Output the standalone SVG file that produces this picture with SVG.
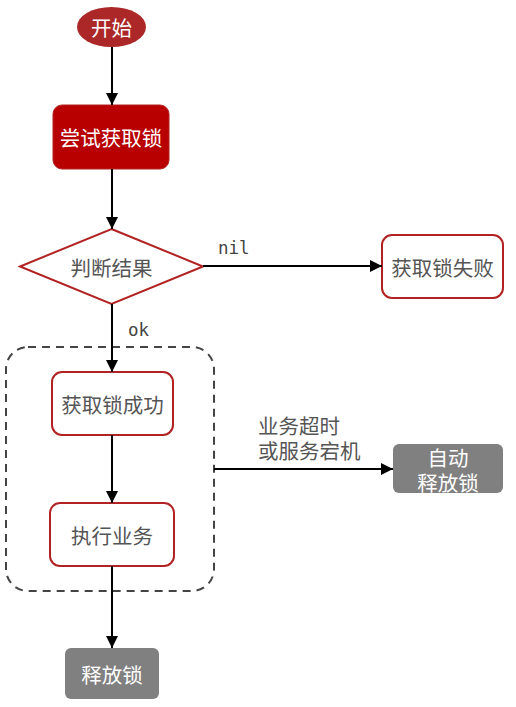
<svg xmlns="http://www.w3.org/2000/svg" width="516" height="707" viewBox="0 0 516 707">
<defs>
<marker id="arr" viewBox="0 0 12 12" refX="12" refY="6" markerWidth="12" markerHeight="12" markerUnits="userSpaceOnUse" orient="auto">
<path d="M0,0 L12,6 L0,12 Z" fill="#000"/>
</marker>
</defs>
<style>
.t{font-family:"Microsoft YaHei","Noto Sans CJK SC",sans-serif;font-size:20.5px;text-anchor:middle;dominant-baseline:central}
.w{fill:#fff}
.g{fill:#555}
.box{fill:#fff;stroke:#b22222;stroke-width:2}
.gray{fill:#808080}
.e{stroke:#000;stroke-width:2;fill:none;marker-end:url(#arr)}
.m{font-family:"DejaVu Sans Mono","Liberation Mono",monospace;font-size:17.5px;fill:#444}
</style>
<rect id="container" x="6" y="347" width="208" height="244" rx="22" fill="none" stroke="#444" stroke-width="2" stroke-dasharray="8,6"/>
<g id="start">
<ellipse cx="111.5" cy="27" rx="34.5" ry="20" fill="#ac2828"/>
<text class="t w" x="111.5" y="27">开始</text>
</g>
<g id="try">
<rect x="53" y="105" width="116" height="64" rx="9" fill="#b80000" stroke="#b22222" stroke-width="1"/>
<text class="t w" x="111" y="137">尝试获取锁</text>
</g>
<g id="judge">
<polygon points="111.5,229 203,266.5 111.5,304 20,266.5" fill="#fff" stroke="#b22222" stroke-width="2"/>
<text class="t g" x="111.5" y="266.5">判断结果</text>
</g>
<g id="fail">
<rect class="box" x="382" y="235" width="121" height="63" rx="10"/>
<text class="t g" x="442.5" y="266.5">获取锁失败</text>
</g>
<g id="success">
<rect class="box" x="52" y="372" width="121" height="63" rx="10"/>
<text class="t g" x="112.5" y="403.5">获取锁成功</text>
</g>
<g id="business">
<rect class="box" x="50" y="503" width="124" height="63" rx="10"/>
<text class="t g" x="112" y="534.5">执行业务</text>
</g>
<g id="release">
<rect class="gray" x="65" y="648" width="94" height="51" rx="6"/>
<text class="t w" x="112" y="673.5">释放锁</text>
</g>
<g id="autorelease">
<rect class="gray" x="393" y="444" width="110" height="49" rx="6"/>
<text class="t w" x="448" y="457">自动</text>
<text class="t w" x="448" y="482">释放锁</text>
</g>
<g id="connectors">
<path class="e" d="M112,47 L112,105"/>
<path class="e" d="M112,169 L112,229"/>
<path class="e" d="M203,266 L382,266"/>
<path class="e" d="M112,304 L112,372"/>
<path class="e" d="M112,435 L112,503"/>
<path class="e" d="M112,566 L112,648"/>
<path class="e" d="M214,469 L393,469"/>
<text class="m" x="218" y="254">nil</text>
<text class="m" x="128" y="336">ok</text>
<text class="t g" x="258" y="425" style="text-anchor:start">业务超时</text>
<text class="t g" x="258" y="450" style="text-anchor:start">或服务宕机</text>
</g>
</svg>
